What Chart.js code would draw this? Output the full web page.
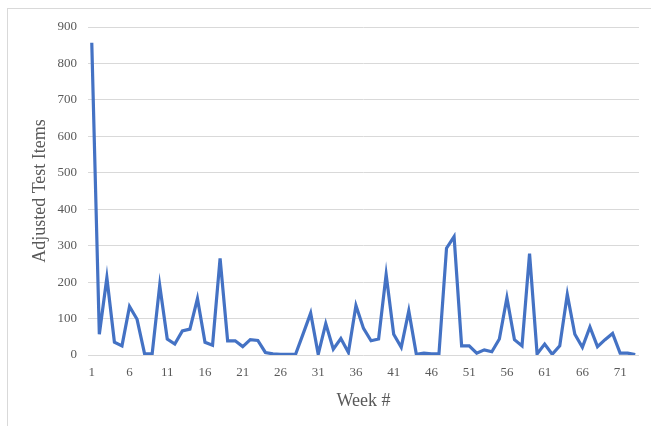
<!DOCTYPE html>
<html lang="en">
<head>
    <meta charset="UTF-8">
    <title>Adjusted Test Items by Week</title>
    <script src="https://cdn.jsdelivr.net/npm/chart.js"></script>
    <style>
        html, body {
            margin: 0;
            padding: 0;
            background: #ffffff;
            overflow: hidden;
        }
        #marco {
            position: absolute;
            left: 7px;
            top: 8px;
            width: 700px;
            height: 460px;
            border: 1px solid #d9d9d9;
        }
        #contenedor {
            position: absolute;
            left: 0;
            top: 0;
            width: 651px;
            height: 426px;
        }
    </style>
</head>
<body>
    <div id="marco"></div>
    <div id="contenedor">
        <canvas id="grafica" width="651" height="426"></canvas>
    </div>
    <script>
        // weeks 1..73
        const semanas = [];
        for (let i = 1; i <= 73; i++) semanas.push(String(i));

        // values
        const items = [
            857, 57, 212, 35, 25, 133, 98, 3, 3, 191,
            44, 30, 66, 71, 155, 35, 27, 265, 39, 39,
            23, 42, 40, 7, 3, 2, 2, 2, 58, 115,
            2, 86, 16, 45, 7, 136, 73, 39, 44, 221,
            57, 21, 121, 2, 5, 3, 4, 293, 325, 25,
            25, 5, 14, 9, 44, 157, 42, 25, 278, 3,
            30, 2, 25, 166, 57, 21, 77, 23, 42, 59,
            5, 5, 1
        ];

        const yTicks = [0, 100, 200, 300, 400, 500, 600, 700, 800, 900];

        const gris = '#595959';
        const fuente = "'Liberation Serif', 'Times New Roman', serif";

        const ctx = document.getElementById('grafica').getContext('2d');
        new Chart(ctx, {
            type: 'line',
            data: {
                labels: semanas,
                datasets: [{
                    label: 'Adjusted Test Items',
                    data: items,
                    borderColor: '#4472C4',
                    borderWidth: 3.2,
                    pointRadius: 0,
                    tension: 0,
                    fill: false
                }]
            },
            options: {
                responsive: false,
                animation: false,
                layout: {
                    padding: { top: 27, right: 12, left: 0, bottom: 0 }
                },
                plugins: {
                    legend: { display: false },
                    tooltip: { enabled: false }
                },
                scales: {
                    x: {
                        offset: true,
                        grid: { display: false, drawTicks: false },
                        border: { display: false },
                        ticks: {
                            autoSkip: false,
                            maxRotation: 0,
                            padding: 10,
                            color: gris,
                            font: { family: fuente, size: 13 },
                            callback: function (val, index) {
                                return index % 5 === 0 ? this.getLabelForValue(val) : '';
                            }
                        },
                        title: {
                            display: true,
                            text: 'Week #',
                            color: gris,
                            font: { family: fuente, size: 18 },
                            padding: { top: 4, bottom: 14 }
                        },
                        afterFit: function (scale) { scale.height = 71; }
                    },
                    y: {
                        min: 0,
                        max: 900,
                        afterBuildTicks: function (scale) {
                            scale.ticks = yTicks.map(v => ({ value: v }));
                        },
                        grid: { color: '#d9d9d9', lineWidth: 1, drawTicks: false },
                        border: { display: false },
                        ticks: {
                            padding: 11,
                            color: gris,
                            font: { family: fuente, size: 13 }
                        },
                        title: {
                            display: true,
                            text: 'Adjusted Test Items',
                            color: gris,
                            font: { family: fuente, size: 18 },
                            padding: { top: 29, bottom: 0 }
                        },
                        afterFit: function (scale) { scale.width = 88; }
                    }
                }
            }
        });
    </script>
</body>
</html>
